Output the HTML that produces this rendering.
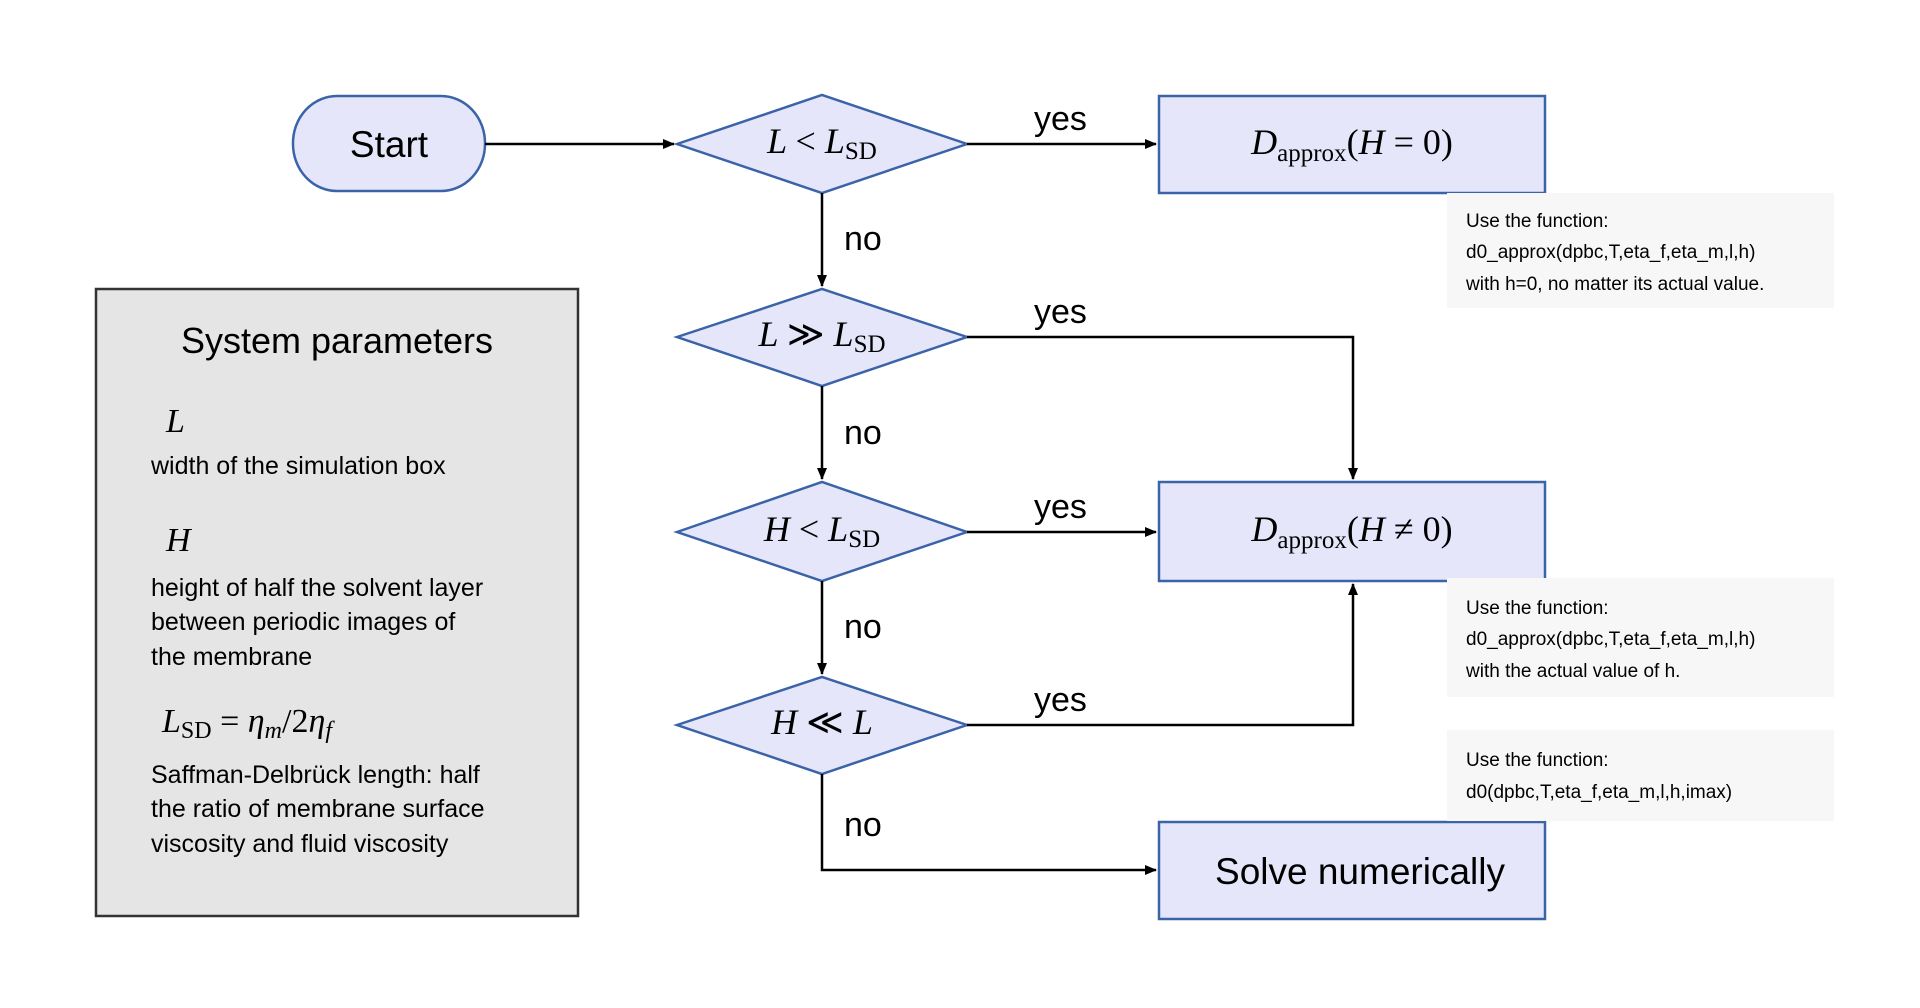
<!DOCTYPE html>
<html><head><meta charset="utf-8"><style>
html,body{margin:0;padding:0;background:#fff;width:1920px;height:1008px;overflow:hidden}
svg{display:block}
.s{font-family:"Liberation Sans",sans-serif;fill:#000}
.m{font-family:"Liberation Serif",serif;fill:#000;font-style:italic}
.r{font-family:"Liberation Serif",serif;font-style:normal}
</style></head><body>
<svg width="1920" height="1008" viewBox="0 0 1920 1008" xmlns="http://www.w3.org/2000/svg">
<defs><marker id="a" markerWidth="12" markerHeight="10" refX="11" refY="5" orient="auto" markerUnits="userSpaceOnUse"><path d="M0,0 L12,5 L0,10 z" fill="#000"/></marker></defs>
<g fill="#e6e6fa" stroke="#3a63a8" stroke-width="2.5">
<rect x="293" y="96" width="192" height="95" rx="44" ry="47"/>
<polygon points="677,144 822,95 967,144 822,193"/>
<polygon points="677,337 822,289 967,337 822,386"/>
<polygon points="677,532 822,482 967,532 822,581"/>
<polygon points="677,725 822,677 967,725 822,774"/>
<rect x="1159" y="96" width="386" height="97"/>
<rect x="1159" y="482" width="386" height="99"/>
<rect x="1159" y="822" width="386" height="97"/>
</g>
<rect x="1447" y="193" width="387" height="115" fill="#f7f7f7"/>
<rect x="1447" y="578" width="387" height="119" fill="#f7f7f7"/>
<rect x="1447" y="730" width="387" height="91" fill="#f7f7f7"/>
<rect x="96" y="289" width="482" height="627" fill="#e5e5e5" stroke="#333" stroke-width="2.5"/>
<g stroke="#000" stroke-width="2.5" fill="none">
<line x1="485" y1="144" x2="674" y2="144" marker-end="url(#a)"/>
<line x1="967" y1="144" x2="1156" y2="144" marker-end="url(#a)"/>
<line x1="822" y1="193" x2="822" y2="286" marker-end="url(#a)"/>
<line x1="822" y1="386" x2="822" y2="479" marker-end="url(#a)"/>
<line x1="822" y1="581" x2="822" y2="674" marker-end="url(#a)"/>
<polyline points="967,337 1353,337 1353,479" marker-end="url(#a)"/>
<line x1="967" y1="532" x2="1156" y2="532" marker-end="url(#a)"/>
<polyline points="967,725 1353,725 1353,584" marker-end="url(#a)"/>
<polyline points="822,774 822,870 1156,870" marker-end="url(#a)"/>
</g>
<text class="s" x="389" y="157" font-size="37" text-anchor="middle">Start</text>
<g class="s" font-size="34">
<text x="1034" y="130">yes</text><text x="1034" y="323">yes</text><text x="1034" y="518">yes</text><text x="1034" y="711">yes</text>
<text x="844" y="250">no</text><text x="844" y="444">no</text><text x="844" y="638">no</text><text x="844" y="836">no</text>
</g>
<g class="m" font-size="36">
<text x="822" y="153" text-anchor="middle">L <tspan class="r">&lt;</tspan> L<tspan class="r" font-size="25" dy="6">SD</tspan></text>
<text x="822" y="346" text-anchor="middle">L <tspan class="r">≫</tspan> L<tspan class="r" font-size="25" dy="6">SD</tspan></text>
<text x="822" y="541" text-anchor="middle">H <tspan class="r">&lt;</tspan> L<tspan class="r" font-size="25" dy="6">SD</tspan></text>
<text x="822" y="734" text-anchor="middle">H <tspan class="r">≪</tspan> L</text>
<text x="1352" y="154" text-anchor="middle">D<tspan class="r" font-size="25" dy="7">approx</tspan><tspan class="r" dy="-7">(</tspan>H <tspan class="r">= 0)</tspan></text>
<text x="1352" y="541" text-anchor="middle">D<tspan class="r" font-size="25" dy="7">approx</tspan><tspan class="r" dy="-7">(</tspan>H <tspan class="r">≠ 0)</tspan></text>
</g>
<text class="s" x="1360" y="884" font-size="37" text-anchor="middle">Solve numerically</text>
<g class="s" font-size="19">
<text x="1466" y="227">Use the function:</text>
<text x="1466" y="258">d0_approx(dpbc,T,eta_f,eta_m,l,h)</text>
<text x="1466" y="290">with h=0, no matter its actual value.</text>
<text x="1466" y="614">Use the function:</text>
<text x="1466" y="645">d0_approx(dpbc,T,eta_f,eta_m,l,h)</text>
<text x="1466" y="677">with the actual value of h.</text>
<text x="1466" y="766">Use the function:</text>
<text x="1466" y="798">d0(dpbc,T,eta_f,eta_m,l,h,imax)</text>
</g>
<text class="s" x="337" y="353" font-size="36" text-anchor="middle">System parameters</text>
<g class="m" font-size="34">
<text x="166" y="432">L</text>
<text x="166" y="551">H</text>
<text x="162" y="732">L<tspan class="r" font-size="24" dy="6">SD</tspan><tspan class="r" dy="-6"> = </tspan>η<tspan font-size="24" dy="6">m</tspan><tspan class="r" dy="-6">/2</tspan>η<tspan font-size="24" dy="6">f</tspan></text>
</g>
<g class="s" font-size="25">
<text x="151" y="474">width of the simulation box</text>
<text x="151" y="596">height of half the solvent layer</text>
<text x="151" y="630">between periodic images of</text>
<text x="151" y="665">the membrane</text>
<text x="151" y="783">Saffman-Delbrück length: half</text>
<text x="151" y="817">the ratio of membrane surface</text>
<text x="151" y="852">viscosity and fluid viscosity</text>
</g>
</svg>
</body></html>
